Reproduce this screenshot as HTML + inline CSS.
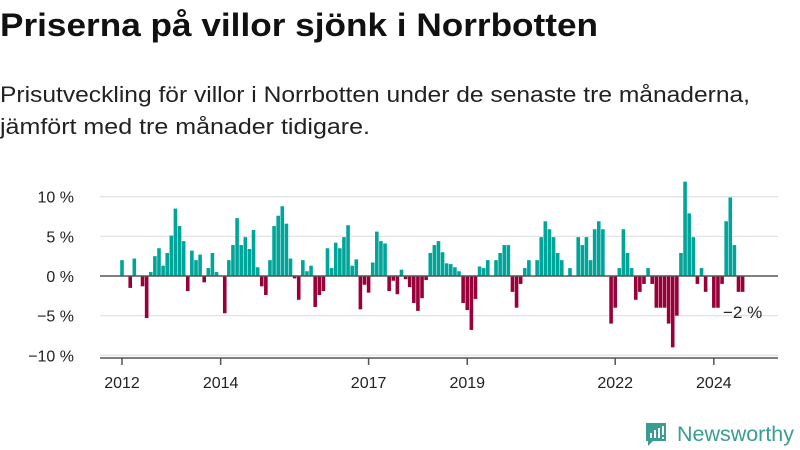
<!DOCTYPE html>
<html><head><meta charset="utf-8"><style>
body{margin:0;background:#fff;width:800px;height:450px;overflow:hidden;font-family:"Liberation Sans","DejaVu Sans",sans-serif;}
svg{display:block}
</style></head><body>
<svg id="chart" width="800" height="450">
<text x="0" y="36" font-size="32" font-weight="bold" fill="#111" textLength="598" lengthAdjust="spacingAndGlyphs">Priserna på villor sjönk i Norrbotten</text>
<text x="0" y="102" font-size="22" fill="#222" textLength="750" lengthAdjust="spacingAndGlyphs">Prisutveckling för villor i Norrbotten under de senaste tre månaderna,</text>
<text x="0" y="134" font-size="22" fill="#222" textLength="370" lengthAdjust="spacingAndGlyphs">jämfört med tre månader tidigare.</text>
<g id="grid"></g><g id="bars"></g><g id="axes"></g>
<text x="723" y="318" font-size="17" fill="#222">−2 %</text>
<g>
<path d="M646 423h20v18h-13l-5 5v-5h-2z" fill="#3a9d94"/>
<rect x="650" y="433" width="2" height="5" fill="#fff"/><rect x="654" y="430" width="2" height="8" fill="#fff"/><rect x="658" y="428" width="2" height="10" fill="#fff"/><rect x="662" y="426" width="2" height="9" fill="#fff"/><rect x="662" y="437" width="2" height="2" fill="#fff"/>
<text x="677" y="441" font-size="21" fill="#3a9d94" textLength="117" lengthAdjust="spacingAndGlyphs">Newsworthy</text>
</g>
</svg>
<script>
const values=[2,0,-1.5,2.2,0,-1.3,-5.3,0.5,2.5,3.5,1.3,2.9,5.1,8.5,6.3,4.4,-1.9,3.2,2,2.7,-0.8,1,2.9,0.5,
0,-4.7,2,3.9,7.3,3.9,4.9,3.4,5.8,1.1,-1.3,-2.4,2,6.3,7.6,8.8,6.6,2.2,-0.3,-3,2,0.6,1.3,-3.9,
-2.4,-1.9,3.5,1,4.2,3.5,4.9,6.4,1.3,2.1,-4.2,-1.1,-2.1,1.7,5.6,4.4,4.1,-1.9,-0.6,-2.3,0.8,-0.4,-1.4,-3.4,
-4.4,-2.8,-0.5,2.9,3.9,4.4,3,1.6,1.5,1.1,0.6,-3.4,-4.3,-6.8,-2.9,1.2,1,2,0,2,2.9,3.9,3.9,-2,
-4,-1,1,2,0,2,4.9,6.9,5.9,4.9,2.9,2,0,1,0,4.9,3.9,4.9,2,5.9,6.9,5.9,0,-6,
-4,1,5.9,2.9,1,-3,-2,-1,1,-1,-4,-4,-4,-6,-9,-5,2.9,11.9,7.9,4.9,-1,1,-2,0,
-4,-4,-1,6.9,9.9,3.9,-2,-2];
const yTicks=[10,5,0,-5,-10];
const yTickLabels=["10 %","5 %","0 %","−5 %","−10 %"];
const xTickYears=[2012,2014,2017,2019,2022,2024];
const startYear=2012;
const NS="http://www.w3.org/2000/svg";
const x=i=>122+4.11*i;
const y=v=>276-7.93*v;
function mk(t,a,p){const e=document.createElementNS(NS,t);for(const k in a)e.setAttribute(k,a[k]);p.appendChild(e);return e;}
const grid=document.getElementById('grid'),bars=document.getElementById('bars'),axes=document.getElementById('axes');
yTicks.forEach((t,i)=>{
 if(t!==0){const l=mk('line',{x1:100,x2:778,y1:y(t),y2:y(t),stroke:'#e3e3e3','stroke-width':1.3},grid);
 
 }
 const tx=mk('text',{x:74,y:y(t)+6,'text-anchor':'end','font-size':16,fill:'#222'},grid);
 tx.textContent=yTickLabels[i];
 
 
});
values.forEach((v,i)=>{
 if(v===0)return;
 const r=mk('rect',{x:x(i)-1.8,width:3.6,y:v>0?y(v):y(0),height:Math.abs(y(v)-y(0)),fill:v>0?'#00a59a':'#990039'},bars);
 
 
});
const zl=mk('line',{x1:100,x2:778,y1:y(0),y2:y(0),stroke:'#555','stroke-width':1.5},axes);


const xa=mk('line',{x1:100,x2:778,y1:358,y2:358,stroke:'#555','stroke-width':1.5},axes);


xTickYears.forEach(yr=>{
 const xi=x((yr-startYear)*12);
 const tk=mk('line',{x1:xi,x2:xi,y1:358,y2:365,stroke:'#555','stroke-width':1.5},axes);
 
 
 const tl=mk('text',{x:xi,y:388,'text-anchor':'middle','font-size':16,fill:'#222'},axes);
 tl.textContent=yr;
 
 
});
</script>
</body></html>
